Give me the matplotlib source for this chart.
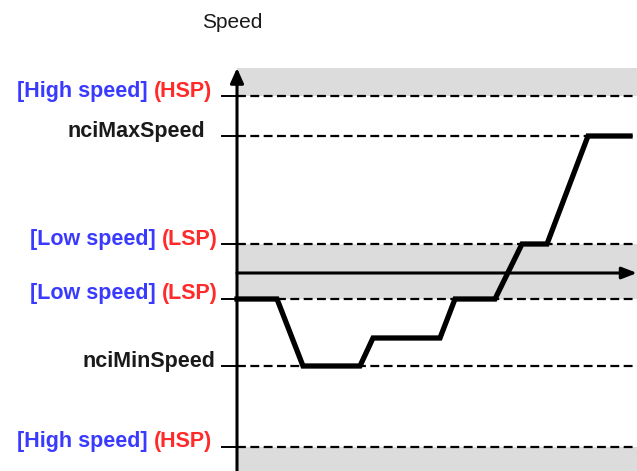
import matplotlib.pyplot as plt

# reference speed levels (same units as the speed profile)
level_names = ["HSP_top", "nciMaxSpeed", "LSP_top", "LSP_bottom", "nciMinSpeed", "HSP_bottom"]
level_values = [177, 137, 29, -26, -93, -174]

# speed profile over time
time = [0, 40, 66, 123, 136, 203, 218, 258, 285, 310, 351, 393]
speed = [-26, -26, -93, -93, -65, -65, -26, -26, 29, 29, 137, 137]

# labels: (blue part, red part) or plain text
labels = [("[High speed] ", "(HSP)"), ("nciMaxSpeed", None), ("[Low speed] ", "(LSP)"),
          ("[Low speed] ", "(LSP)"), ("nciMinSpeed", None), ("[High speed] ", "(HSP)")]
label_right = [-25, -32, -19, -19, -22, -25]

blue = "#3a3aff"
red = "#ff2a2a"
gray = "#dcdcdc"

fig = plt.figure(figsize=(6.37, 4.71), dpi=100)
ax = fig.add_axes([0, 0, 1, 1])
ax.set_xlim(-237, 400)
ax.set_ylim(-198, 273)
ax.axis("off")

# gray bands outside the speed limits and between the two LSP levels
ax.fill_between([0, 400], level_values[0], 205, color=gray, lw=0, zorder=0)
ax.fill_between([0, 400], level_values[3], level_values[2], color=gray, lw=0, zorder=0)
ax.fill_between([0, 400], -198, level_values[5], color=gray, lw=0, zorder=0)

# dashed reference lines and ticks
for v in level_values:
    ax.plot([0, 400], [v, v], color="black", lw=1.6, ls=(0, (4, 2)), zorder=2)
    ax.plot([-15, 0], [v, v], color="black", lw=1.4, zorder=3)

# axes with arrows
ax.annotate("", xy=(0, 205), xytext=(0, -198), annotation_clip=False,
            arrowprops=dict(arrowstyle="-|>,head_length=0.9,head_width=0.4", color="black", lw=2.2, shrinkA=0, shrinkB=0), zorder=4)
ax.annotate("", xy=(400, 0), xytext=(0, 0), annotation_clip=False,
            arrowprops=dict(arrowstyle="-|>,head_length=0.9,head_width=0.35", color="black", lw=2.2, shrinkA=0, shrinkB=0), zorder=4)

# speed profile
ax.plot(time, speed, color="black", lw=3.8, solid_joinstyle="miter", zorder=5)

ax.text(-5, 251, "Speed", ha="center", va="center", fontsize=15, family="Liberation Sans", color="#1a1a1a")

fig.canvas.draw()
renderer = fig.canvas.get_renderer()
font = dict(fontsize=15.5, family="Liberation Sans", fontweight="bold", va="center")
for v, (first, second), xr in zip(level_values, labels, label_right):
    y = v + 5
    if second is None:
        ax.text(xr, y, first, ha="right", color="#1a1a1a", **font)
    else:
        t = ax.text(xr, y, second, ha="right", color=red, **font)
        bb = t.get_window_extent(renderer)
        x_left = ax.transData.inverted().transform((bb.x0, bb.y0))[0]
        ax.text(x_left, y, first, ha="right", color=blue, **font)

fig.savefig("out.png", dpi=100)
